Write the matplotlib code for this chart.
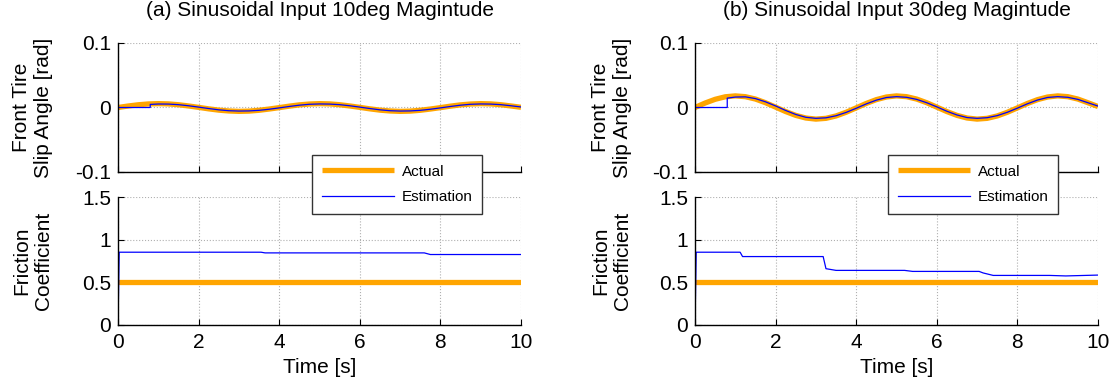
import matplotlib.pyplot as plt
import numpy as np

plt.rcParams['font.family'] = ['Liberation Sans', 'DejaVu Sans']

# time grid for the slip angle curves (s)
t_slip = [0.0, 0.25, 0.5, 0.75, 1.0, 1.25, 1.5, 1.75, 2.0, 2.25, 2.5, 2.75, 3.0, 3.25,
          3.5, 3.75, 4.0, 4.25, 4.5, 4.75, 5.0, 5.25, 5.5, 5.75, 6.0, 6.25, 6.5, 6.75,
          7.0, 7.25, 7.5, 7.75, 8.0, 8.25, 8.5, 8.75, 9.0, 9.25, 9.5, 9.75, 10.0]

# (a) 10deg input, actual slip angle [rad]
slip_act_a = [0.0, 0.0023, 0.0042, 0.0055, 0.006, 0.0056, 0.0043, 0.0024, 0.0002, -0.0021,
              -0.0041, -0.0054, -0.006, -0.0056, -0.0043, -0.0024, -0.0002, 0.0021, 0.0041,
              0.0054, 0.006, 0.0056, 0.0043, 0.0024, 0.0002, -0.0021, -0.0041, -0.0054,
              -0.006, -0.0056, -0.0043, -0.0024, -0.0002, 0.0021, 0.0041, 0.0054, 0.006,
              0.0056, 0.0043, 0.0024, 0.0003]
# estimation starts at zero and jumps at ~0.8 s
t_est = [0.0, 0.8, 0.8, 1.0, 1.25, 1.5, 1.75, 2.0, 2.25, 2.5, 2.75, 3.0, 3.25,
         3.5, 3.75, 4.0, 4.25, 4.5, 4.75, 5.0, 5.25, 5.5, 5.75, 6.0, 6.25, 6.5, 6.75,
         7.0, 7.25, 7.5, 7.75, 8.0, 8.25, 8.5, 8.75, 9.0, 9.25, 9.5, 9.75, 10.0]
slip_est_a = [0.0, 0.0, 0.0048, 0.0054, 0.0053, 0.0044, 0.0027, 0.0006, -0.0016, -0.0036,
              -0.005, -0.0055, -0.0053, -0.0044, -0.0027, -0.0006, 0.0016, 0.0036, 0.005,
              0.0055, 0.0053, 0.0044, 0.0027, 0.0006, -0.0016, -0.0036, -0.005, -0.0055,
              -0.0053, -0.0044, -0.0027, -0.0006, 0.0016, 0.0036, 0.005, 0.0055, 0.0053,
              0.0044, 0.0027, 0.0008]

# (b) 30deg input
slip_act_b = [0.0, 0.0069, 0.0127, 0.0166, 0.018, 0.0168, 0.0131, 0.0074, 0.0006, -0.0063,
              -0.0122, -0.0163, -0.018, -0.0168, -0.0131, -0.0074, -0.0006, 0.0063, 0.0122,
              0.0163, 0.018, 0.0168, 0.0131, 0.0074, 0.0006, -0.0063, -0.0122, -0.0163,
              -0.018, -0.0168, -0.0131, -0.0074, -0.0006, 0.0063, 0.0122, 0.0163, 0.018,
              0.0168, 0.0131, 0.0074, 0.0015]
slip_est_b = [0.0, 0.0, 0.0145, 0.0162, 0.0165, 0.0138, 0.0088, 0.0024, -0.0046, -0.0108,
              -0.0152, -0.0168, -0.0160, -0.0128, -0.0076, -0.0012, 0.0056, 0.0114, 0.0155,
              0.0168, 0.0158, 0.0126, 0.0074, 0.0010, -0.0058, -0.0116, -0.0156, -0.0168,
              -0.0158, -0.0126, -0.0074, -0.0010, 0.0058, 0.0116, 0.0156, 0.0168, 0.0158,
              0.0126, 0.0074, 0.0022]

# friction coefficient
t_mu_act = [0.0, 10.0]
mu_act = [0.5, 0.5]
t_mu_a = [0.0, 0.03, 3.55, 3.65, 7.6, 7.75, 10.0]
mu_est_a = [0.0, 0.853, 0.853, 0.845, 0.845, 0.826, 0.826]
t_mu_b = [0.0, 0.03, 1.12, 1.18, 3.18, 3.25, 3.5, 5.2, 5.4, 7.05, 7.15, 7.4, 8.8, 9.2, 10.0]
mu_est_b = [0.0, 0.853, 0.853, 0.802, 0.802, 0.66, 0.64, 0.64, 0.628, 0.628, 0.61, 0.581,
            0.581, 0.575, 0.585]

titles = ['(a) Sinusoidal Input 10deg Magintude', '(b) Sinusoidal Input 30deg Magintude']

ORANGE = '#FFA500'
BLUE = '#0000FF'
W, H = 1117, 389
FS = 15


def style(ax, yticks, ylabels, xlabels):
    ax.set_xlim(0, 10)
    ax.set_xticks([0, 2, 4, 6, 8, 10])
    if not xlabels:
        ax.set_xticklabels([])
    ax.set_yticks(yticks)
    ax.set_yticklabels(ylabels)
    ax.set_ylim(yticks[0], yticks[-1])
    ax.spines['top'].set_visible(False)
    ax.spines['right'].set_visible(False)
    ax.spines['left'].set_linewidth(1.0)
    ax.spines['bottom'].set_linewidth(1.0)
    ax.tick_params(direction='in', length=4, labelsize=FS)
    ax.tick_params(axis='x', pad=6)
    ax.tick_params(axis='y', pad=5)
    ax.grid(True, linestyle=':', color='#b0b0b0', linewidth=0.8)
    ax.set_axisbelow(True)


fig = plt.figure(figsize=(W / 100, H / 100), dpi=100)

panels = [
    (118, slip_act_a, slip_est_a, t_mu_a, mu_est_a, 312, -0.161),
    (695, slip_act_b, slip_est_b, t_mu_b, mu_est_b, 888, -0.156),
]

for i, (x0, act, est, tmu, mu, legx, labx) in enumerate(panels):
    axw = 403 / W
    ax1 = fig.add_axes([x0 / W, 1 - 172 / H, axw, 129 / H])
    ax2 = fig.add_axes([x0 / W, 1 - 325 / H, axw, 128 / H])

    l1, = ax1.plot(t_slip, act, color=ORANGE, lw=3.8, solid_capstyle='butt')
    l2, = ax1.plot(t_est, est, color=BLUE, lw=0.9)
    style(ax1, [-0.1, 0, 0.1], ['-0.1', '0', '0.1'], False)
    ax1.set_title(titles[i], fontsize=FS, pad=19.5)
    ax1.set_ylabel('Front Tire\nSlip Angle [rad]', fontsize=FS)
    ax1.yaxis.set_label_coords(labx, 0.5)

    ax2.plot(t_mu_act, mu_act, color=ORANGE, lw=3.8, solid_capstyle='butt')
    ax2.plot(tmu, mu, color=BLUE, lw=0.9)
    style(ax2, [0, 0.5, 1, 1.5], ['0', '0.5', '1', '1.5'], True)
    ax2.set_xlabel('Time [s]', fontsize=FS, labelpad=4)
    ax2.set_ylabel('Friction\nCoefficient', fontsize=FS)
    ax2.yaxis.set_label_coords(labx, 0.5)

    leg = fig.legend([l1, l2], ['Actual', 'Estimation'],
                     loc='upper left', bbox_to_anchor=(legx / W, 1 - 155 / H),
                     borderaxespad=0, fontsize=11, handlelength=4.7, handletextpad=0.52,
                     borderpad=0.64, labelspacing=0.75, fancybox=False, framealpha=1)
    leg.get_frame().set_edgecolor('#333333')
    leg.get_frame().set_linewidth(1.0)

fig.savefig('out.png', dpi=100)
